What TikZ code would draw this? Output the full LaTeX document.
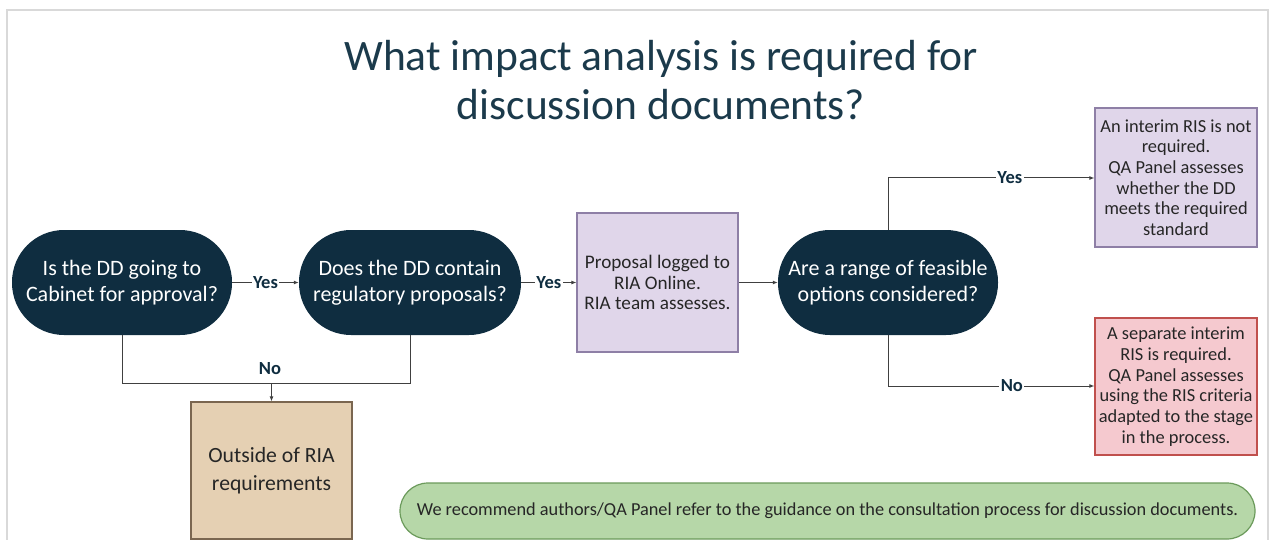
\documentclass[tikz,border=0pt]{standalone}
\usepackage{fontspec}
\setmainfont{Carlito}
\usetikzlibrary{arrows.meta}

\definecolor{navy}{HTML}{0F2D40}
\definecolor{titleink}{HTML}{1B3A4B}
\definecolor{ink}{HTML}{262626}
\definecolor{wire}{HTML}{404040}
\definecolor{lavfill}{HTML}{E0D6EA}
\definecolor{lavedge}{HTML}{8E7FA6}
\definecolor{pinkfill}{HTML}{F5C9CF}
\definecolor{pinkedge}{HTML}{C0504D}
\definecolor{tanfill}{HTML}{E5D0B3}
\definecolor{tanedge}{HTML}{7A6650}
\definecolor{greenfill}{HTML}{B6D7A8}
\definecolor{greenedge}{HTML}{6B9A5B}
\definecolor{framegray}{HTML}{D9D9D9}

\tikzset{
  decision/.style={rectangle, rounded corners=52pt, fill=navy, text=white,
    minimum height=105pt, align=center, inner sep=0pt,
    font=\fontsize{22}{26}\selectfont},
  infobox/.style={rectangle, draw, line width=1.2pt, align=center, text=ink,
    inner sep=0pt, font=\fontsize{19.2}{20.7}\selectfont},
  sidebox/.style={infobox, minimum width=162pt,
    font=\fontsize{18.4}{20.7}\selectfont},
  wirestyle/.style={draw=wire, line width=1pt},
  flow/.style={wirestyle, -{Latex[length=5pt,width=4pt]}},
  tag/.style={fill=white, text=navy, inner sep=1.5pt,
    font=\fontsize{18.5}{20}\selectfont\bfseries},
}

\begin{document}
\begin{tikzpicture}[x=1pt, y=-1pt]
\useasboundingbox (0,0) rectangle (1273,540);

% outer frame
\draw[framegray, line width=2pt] (7,560) -- (7,10) -- (1268,10) -- (1268,560);

% title
\node[text=titleink, align=center, font=\fontsize{43.5}{49}\selectfont] (title)
  at (661,80) {What impact analysis is required for\\discussion documents?};

% decisions
\node[decision, minimum width=220pt] (cab) at (122,282.5)
  {Is the DD going to\\Cabinet for approval?};
\node[decision, minimum width=222pt] (reg) at (410,282.5)
  {Does the DD contain\\regulatory proposals?};
\node[decision, minimum width=220pt] (opt) at (888,282.5)
  {Are a range of feasible\\options considered?};

% outcome boxes
\node[infobox, fill=lavfill, draw=lavedge, minimum width=161pt, minimum height=139pt]
  (logged) at (657.5,282.5) {Proposal logged to\\RIA Online.\\RIA team assesses.};
\node[sidebox, fill=lavfill, draw=lavedge, minimum height=139pt]
  (norequired) at (1176,177.5) {An interim RIS is not\\required.\\QA Panel assesses\\whether the DD\\meets the required\\standard};
\node[sidebox, fill=pinkfill, draw=pinkedge, minimum height=137pt]
  (separate) at (1176,386.5) {A separate interim\\RIS is required.\\QA Panel assesses\\using the RIS criteria\\adapted to the stage\\in the process.};
\node[infobox, fill=tanfill, draw=tanedge, minimum width=161pt, minimum height=137pt,
  font=\fontsize{21.7}{28}\selectfont]
  (outside) at (271.5,470.5) {Outside of RIA\\requirements};

% guidance note
\node[rectangle, rounded corners=28pt, draw=greenedge, line width=1.2pt, fill=greenfill,
  minimum width=855pt, minimum height=56pt, text=ink, inner sep=0pt,
  font=\fontsize{18.3}{20}\selectfont] (note) at (827.5,511)
  {We recommend authors/QA Panel refer to the guidance on the consultation process for discussion documents.};

% yes path
\draw[flow] (cab.east) -- node[tag] {Yes} (reg.west);
\draw[flow] (reg.east) -- node[tag] {Yes} (logged.west);
\draw[flow] (logged.east) -- (opt.west);

% branches of the options question
\coordinate (upturn) at (888,178);
\coordinate (downturn) at (888,386);
\draw[wirestyle] (opt.north) -- (upturn);
\draw[flow] (upturn) -- node[tag, pos=0.59] {Yes} (upturn -| norequired.west);
\draw[wirestyle] (opt.south) -- (downturn);
\draw[flow] (downturn) -- node[tag, pos=0.6] {No} (downturn -| separate.west);

% no path to outside of requirements
\coordinate (nojoin) at (271.5,383);
\draw[wirestyle] (cab.south) -- (cab.south |- nojoin) -- (reg.south |- nojoin) -- (reg.south);
\draw[flow] (nojoin) -- (outside.north);
\node[text=navy, font=\fontsize{18.5}{20}\selectfont\bfseries] (nolabel) at (270,369) {No};
\end{tikzpicture}
\end{document}
